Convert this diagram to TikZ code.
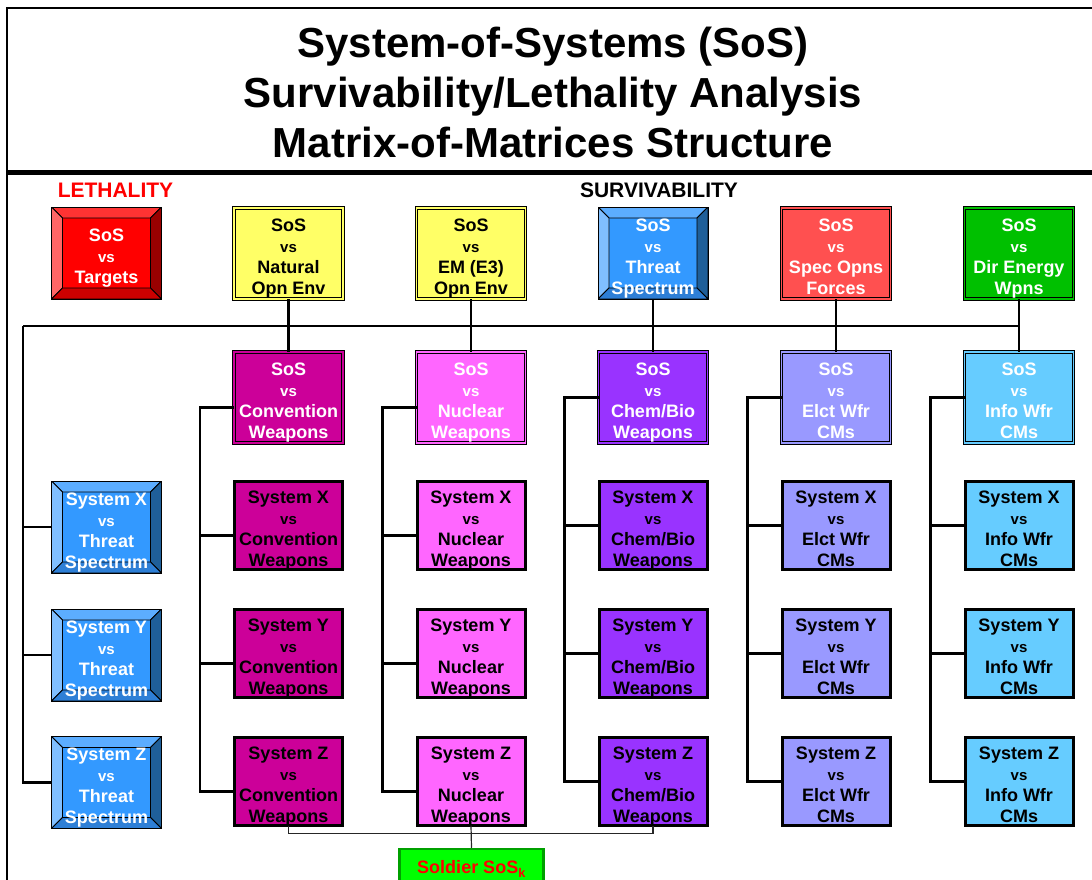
\documentclass[tikz,border=0pt]{standalone}
\usepackage{fontspec}
\setmainfont{Liberation Sans}
\usetikzlibrary{trees}

\definecolor{yellowbox}{HTML}{FFFF66}
\definecolor{specops}{HTML}{FF5050}
\definecolor{direnergy}{HTML}{00C000}
\definecolor{convwpn}{HTML}{CC0099}
\definecolor{nucwpn}{HTML}{FF66FF}
\definecolor{chemwpn}{HTML}{9933FF}
\definecolor{elctwfr}{HTML}{9999FF}
\definecolor{infowfr}{HTML}{66CCFF}
\definecolor{soldierfill}{HTML}{00FF00}
\definecolor{soldierline}{HTML}{00A000}
\definecolor{redface}{HTML}{FF0000}
\definecolor{redtop}{HTML}{FF3333}
\definecolor{redleft}{HTML}{FF6666}
\definecolor{redright}{HTML}{990000}
\definecolor{redbottom}{HTML}{CC0000}
\definecolor{blueface}{HTML}{3399FF}
\definecolor{bluetop}{HTML}{5CADFF}
\definecolor{blueleft}{HTML}{80BFFF}
\definecolor{blueright}{HTML}{1F5F99}
\definecolor{bluebottom}{HTML}{2E7FD6}

\newcommand{\vsword}{{\fontsize{15}{21}\selectfont vs}}

\tikzset{
  boxtext/.style={align=center, font=\bfseries\fontsize{18}{21}\selectfont,
    inner sep=0pt, outer sep=0pt, text height=82.5pt, text depth=0pt},
  sosbox/.style={boxtext, fill=#1, draw=black, line width=0.8, double=#1,
    double distance=1.5, minimum width=109, minimum height=91},
  sysbox/.style={boxtext, fill=#1, draw=black, line width=3,
    minimum width=108, minimum height=88},
  bevelbox/.style n args={5}{boxtext, fill=#1, draw=black, line width=0.8,
    minimum width=110, minimum height=92, text=white,
    path picture={
      \coordinate (pnw) at (path picture bounding box.north west);
      \coordinate (pne) at (path picture bounding box.north east);
      \coordinate (psw) at (path picture bounding box.south west);
      \coordinate (pse) at (path picture bounding box.south east);
      \filldraw[fill=#2, line width=0.8] (pnw) -- (pne)
        -- ([shift={(-11pt,-11pt)}]pne) -- ([shift={(11pt,-11pt)}]pnw) -- cycle;
      \filldraw[fill=#3, line width=0.8] (pnw) -- (psw)
        -- ([shift={(11pt,11pt)}]psw) -- ([shift={(11pt,-11pt)}]pnw) -- cycle;
      \filldraw[fill=#4, line width=0.8] (pne) -- (pse)
        -- ([shift={(-11pt,11pt)}]pse) -- ([shift={(-11pt,-11pt)}]pne) -- cycle;
      \filldraw[fill=#5, line width=0.8] (psw) -- (pse)
        -- ([shift={(-11pt,11pt)}]pse) -- ([shift={(11pt,11pt)}]psw) -- cycle;
    }},
  redbevel/.style={bevelbox={redface}{redtop}{redleft}{redright}{redbottom}},
  bluebevel/.style={bevelbox={blueface}{bluetop}{blueleft}{blueright}{bluebottom}},
  wire/.style={draw=black, line width=2.5},
  thinwire/.style={draw=black!85, line width=1.2},
  tap/.style={edge from parent path={([yshift=#1]\tikzparentnode.west)
    -- ++(-34,0) |- ([yshift=#1]\tikzchildnode.west)}}
}

\begin{document}
\begin{tikzpicture}[x=1pt, y=1pt,
    grow via three points={one child at (0,-128) and two children at (0,-128) and (0,-256)},
    edge from parent/.style={draw=black, line width=2.5},
    tap=0pt]
  \useasboundingbox (0,0) rectangle (1092,-880);

  % frame and title
  \draw[line width=2] (7,-895) -- (7,-8) -- (1100,-8);
  \draw[line width=5] (7,-172) -- (1100,-172);
  \node[align=center, font=\bfseries\fontsize{42}{50}\selectfont] (title) at (553,-92)
    {System-of-Systems (SoS)\\Survivability/Lethality Analysis\\Matrix-of-Matrices Structure};

  \node[font=\bfseries\fontsize{21}{24}\selectfont, text=red] (lethal) at (115.5,-190) {LETHALITY};
  \node[font=\bfseries\fontsize{21}{24}\selectfont] (surviv) at (659,-190) {SURVIVABILITY};

  % top row
  \node[redbevel, text height=61.5pt] (targets) at (106.5,-253) {SoS\\\vsword\\Targets};
  \node[sosbox=yellowbox] (natural) at (288.5,-253.5) {SoS\\\vsword\\Natural\\Opn Env};
  \node[sosbox=yellowbox] (emenv) at (471,-253.5) {SoS\\\vsword\\EM (E3)\\Opn Env};
  \node[bluebevel] (threat) at (653,-253) {SoS\\\vsword\\Threat\\Spectrum};
  \node[sosbox=specops, text=white] (specops) at (836,-253.5) {SoS\\\vsword\\Spec Opns\\Forces};
  \node[sosbox=direnergy, text=white] (direrg) at (1019,-253.5) {SoS\\\vsword\\Dir Energy\\Wpns};

  % weapon columns
  \node[sosbox=convwpn, text=white] (conv) at (288.5,-397.5) {SoS\\\vsword\\Convention\\Weapons}
    child[tap=-10pt] {node[sysbox=convwpn] (convX) {System X\\\vsword\\Convention\\Weapons}}
    child[tap=-10pt] {node[sysbox=convwpn] (convY) {System Y\\\vsword\\Convention\\Weapons}}
    child[tap=-10pt] {node[sysbox=convwpn] (convZ) {System Z\\\vsword\\Convention\\Weapons}};
  \node[sosbox=nucwpn, text=white] (nuc) at (471,-397.5) {SoS\\\vsword\\Nuclear\\Weapons}
    child[tap=-10pt] {node[sysbox=nucwpn] (nucX) {System X\\\vsword\\Nuclear\\Weapons}}
    child[tap=-10pt] {node[sysbox=nucwpn] (nucY) {System Y\\\vsword\\Nuclear\\Weapons}}
    child[tap=-10pt] {node[sysbox=nucwpn] (nucZ) {System Z\\\vsword\\Nuclear\\Weapons}};
  \node[sosbox=chemwpn, text=white] (chem) at (653,-397.5) {SoS\\\vsword\\Chem/Bio\\Weapons}
    child {node[sysbox=chemwpn] (chemX) {System X\\\vsword\\Chem/Bio\\Weapons}}
    child {node[sysbox=chemwpn] (chemY) {System Y\\\vsword\\Chem/Bio\\Weapons}}
    child {node[sysbox=chemwpn] (chemZ) {System Z\\\vsword\\Chem/Bio\\Weapons}};
  \node[sosbox=elctwfr, text=white] (elct) at (836,-397.5) {SoS\\\vsword\\Elct Wfr\\CMs}
    child {node[sysbox=elctwfr] (elctX) {System X\\\vsword\\Elct Wfr\\CMs}}
    child {node[sysbox=elctwfr] (elctY) {System Y\\\vsword\\Elct Wfr\\CMs}}
    child {node[sysbox=elctwfr] (elctZ) {System Z\\\vsword\\Elct Wfr\\CMs}};
  \node[sosbox=infowfr, text=white] (info) at (1019,-397.5) {SoS\\\vsword\\Info Wfr\\CMs}
    child {node[sysbox=infowfr] (infoX) {System X\\\vsword\\Info Wfr\\CMs}}
    child {node[sysbox=infowfr] (infoY) {System Y\\\vsword\\Info Wfr\\CMs}}
    child {node[sysbox=infowfr] (infoZ) {System Z\\\vsword\\Info Wfr\\CMs}};

  % threat spectrum systems
  \node[bluebevel] (thrX) at (106.5,-527) {System X\\\vsword\\Threat\\Spectrum};
  \node[bluebevel] (thrY) at (106.5,-655) {System Y\\\vsword\\Threat\\Spectrum};
  \node[bluebevel] (thrZ) at (106.5,-782.5) {System Z\\\vsword\\Threat\\Spectrum};

  \node[align=center, font=\bfseries\fontsize{18}{21}\selectfont, inner sep=0pt,
    fill=soldierfill, draw=soldierline, line width=2.5, minimum width=144,
    minimum height=40, text=red] (soldier) at (471.5,-869) {Soldier SoS\textsubscript{k}};

  % bus lines
  \coordinate (busL) at (23,-326);
  \coordinate (busR) at (direrg.south |- busL);
  \draw[wire] (busL) -- (busR);
  \draw[wire] (natural.south) -- (conv.north);
  \draw[wire] (emenv.south) -- (nuc.north);
  \draw[wire] (threat.south) -- (chem.north);
  \draw[wire] (specops.south) -- (elct.north);
  \draw[wire] (direrg.south) -- (info.north);
  \draw[wire] (busL) |- (thrX.west);
  \draw[wire] (busL) |- (thrY.west);
  \draw[wire] (busL) |- (thrZ.west);

  \draw[thinwire] (convZ.south) -- ++(0,-8) -| (chemZ.south);
  \draw[thinwire] (nucZ.south) -- (soldier.north);
\end{tikzpicture}
\end{document}
